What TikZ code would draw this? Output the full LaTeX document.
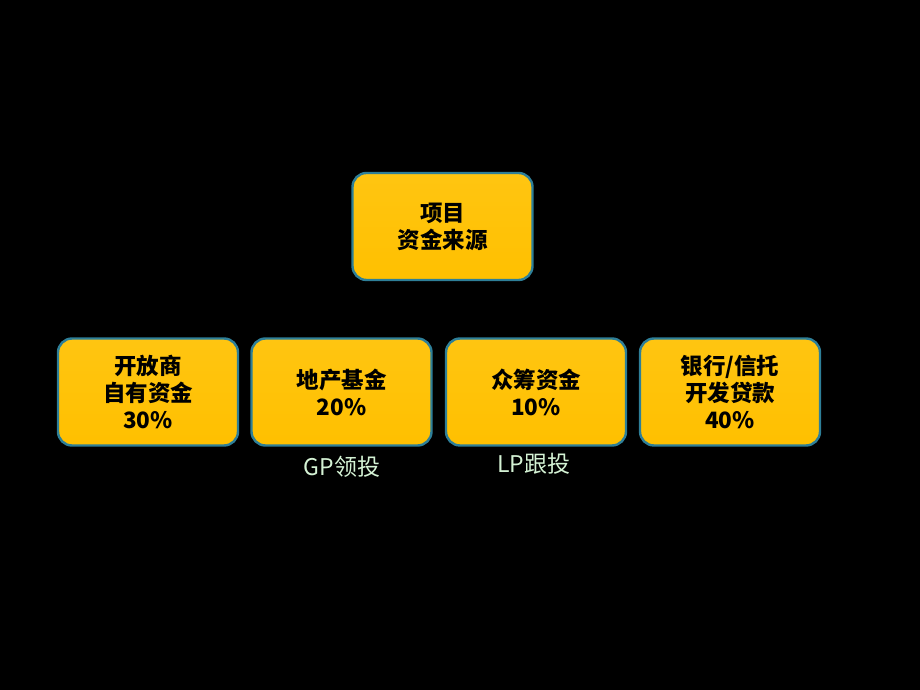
\documentclass[tikz,border=0pt]{standalone}
\usepackage{fontspec}
\newfontfamily\cjk{Noto Sans CJK SC}
\definecolor{boxfill}{HTML}{FFC000}
\definecolor{boxtop}{HTML}{FFC511}
\definecolor{boxedge}{HTML}{2E7F98}
\definecolor{lbl}{HTML}{D4F2D4}
\begin{document}
\begin{tikzpicture}[x=1pt,y=1pt,
  fundbox/.style={draw=boxedge, line width=2.4pt, rounded corners=14pt,
    top color=boxtop, bottom color=boxfill, minimum width=180pt, minimum height=107pt,
    align=center, font=\cjk\bfseries\fontsize{22.5}{27}\selectfont, text=black, inner sep=0pt},
  note/.style={font=\cjk\fontsize{23}{26}\selectfont, text=lbl, inner sep=0pt}]
\fill[black] (0,0) rectangle (920,690);
\useasboundingbox (0,0) rectangle (920,690);
\node[fundbox] (top) at (442.5,463.5) {项目\\资金来源};
\node[fundbox] (b1) at (148,298) {开放商\\自有资金\\30\%};
\node[fundbox] (b2) at (341.5,298) {地产基金\\20\%};
\node[fundbox] (b3) at (536,298) {众筹资金\\10\%};
\node[fundbox] (b4) at (730,298) {银行/信托\\开发贷款\\40\%};
\node[note] (gp) at (342,223) {GP领投};
\node[note] (lp) at (534,226) {LP跟投};
\end{tikzpicture}
\end{document}
